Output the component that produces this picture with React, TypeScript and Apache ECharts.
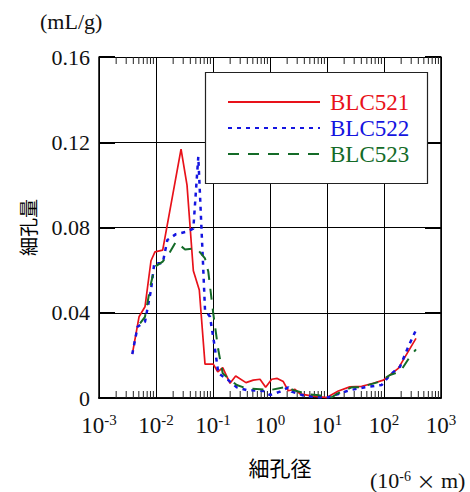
import React, { useEffect, useRef } from "react";
import * as echarts from "echarts";

// ---- data (pore diameter in 10^-6 m, pore volume in mL/g) ----
const seriesNames = ["BLC521", "BLC522", "BLC523"];
const seriesColors = ["#e8121a", "#1414e0", "#146b28"];

const diameterA = [0.00384, 0.00504, 0.00641, 0.00817, 0.00959, 0.0131, 0.0275, 0.035, 0.0452, 0.0575, 0.0724, 0.101, 0.121, 0.148, 0.199, 0.25, 0.379, 0.509, 0.668, 0.839, 1.07, 1.34, 1.71, 2.09, 2.75, 3.36, 5.01, 9.89, 15.8, 25.1, 40.6, 65.0, 97.3, 178, 364];
const volumeA = [0.0206, 0.0381, 0.0428, 0.0644, 0.0686, 0.0694, 0.1168, 0.0999, 0.0597, 0.0507, 0.0159, 0.0159, 0.0123, 0.0142, 0.0069, 0.0103, 0.0072, 0.0084, 0.0088, 0.005, 0.0088, 0.0092, 0.0077, 0.0034, 0.0041, 0.0019, 0.0011, 0.0002, 0.0033, 0.0052, 0.0055, 0.0069, 0.0084, 0.0139, 0.028];

const diameterB = [0.00384, 0.00475, 0.00641, 0.00817, 0.00933, 0.0131, 0.0158, 0.0224, 0.0345, 0.0452, 0.0552, 0.0661, 0.0724, 0.0885, 0.105, 0.124, 0.186, 0.261, 0.389, 0.764, 1.0, 1.5, 2.09, 2.4, 3.85, 6.61, 10.5, 15.8, 25.1, 46.5, 91.2, 127, 191, 267, 364];
const volumeB = [0.0206, 0.0334, 0.0358, 0.0507, 0.0632, 0.0632, 0.0741, 0.0769, 0.078, 0.0795, 0.1132, 0.066, 0.0413, 0.0381, 0.0256, 0.0116, 0.0084, 0.005, 0.0037, 0.0033, 0.0014, 0.003, 0.005, 0.003, 0.0012, 0.0004, 0.0003, 0.0019, 0.0037, 0.005, 0.0061, 0.0108, 0.0147, 0.0241, 0.0319];

const diameterC = [0.00525, 0.00641, 0.00817, 0.00959, 0.0131, 0.0171, 0.0224, 0.0323, 0.0518, 0.0724, 0.0828, 0.101, 0.124, 0.148, 0.186, 0.261, 0.389, 0.668, 1.0, 1.96, 2.57, 4.7, 6.61, 12.1, 14.8, 27.1, 38.0, 85.1, 127, 191, 286, 364];
const volumeC = [0.035, 0.0381, 0.0538, 0.0616, 0.064, 0.0679, 0.0733, 0.0697, 0.0702, 0.0655, 0.0592, 0.0397, 0.0225, 0.0116, 0.0092, 0.0061, 0.0045, 0.0041, 0.0037, 0.0053, 0.0037, 0.0017, 0.0014, 0.0003, 0.0019, 0.005, 0.005, 0.0077, 0.0108, 0.0123, 0.0194, 0.0228];

const xDecades = [0.001, 0.01, 0.1, 1, 10, 100, 1000];
const xExponents = ["-3", "-2", "-1", "0", "1", "2", "3"];
const yTickLabels = ["0", "0.04", "0.08", "0.12", "0.16"];
const minorSteps = [2, 3, 4, 5, 6, 7, 8, 9];

const zip = (xs: number[], ys: number[]) => xs.map((x, i) => [x, ys[i]]);

export default function App() {
  const ref = useRef<HTMLDivElement>(null);

  useEffect(() => {
    document.body.style.margin = "0";
    const chart = echarts.init(ref.current!, null, { renderer: "svg" });

    const minorData: number[][] = [];
    xDecades.slice(0, -1).forEach((d) => minorSteps.forEach((k) => minorData.push([k * d, 0])));

    const serif = "Liberation Serif";
    const cjk = "Noto Sans CJK JP";

    const lineTypes: any[] = ["solid", [4, 5], [11, 9]];
    const lineWidths = [1.7, 2.5, 2];
    const datasets = [zip(diameterA, volumeA), zip(diameterB, volumeB), zip(diameterC, volumeC)];

    chart.setOption({
      animation: false,
      grid: { left: 99, top: 57, right: 29, bottom: 94, containLabel: false },
      xAxis: [
        {
          type: "log",
          logBase: 10,
          min: 0.001,
          max: 1000,
          position: "bottom",
          name: "細孔径",
          nameLocation: "middle",
          nameGap: 58,
          nameTextStyle: { fontFamily: cjk, fontSize: 21, color: "#000", padding: [0, 0, 0, 20] },
          axisLine: { show: true, lineStyle: { color: "#000", width: 1.5 } },
          axisTick: { show: false },
          splitLine: { show: true, lineStyle: { color: "#000", width: 1 } },
          minorTick: { show: false },
          axisLabel: {
            margin: 14,
            formatter: (v: number) => {
              const i = xDecades.findIndex((d) => Math.abs(Math.log10(d) - Math.log10(v)) < 1e-6);
              return i < 0 ? "" : `{b|10}{s|${xExponents[i]}}`;
            },
            rich: {
              b: { fontFamily: serif, fontSize: 23, color: "#111", lineHeight: 26 },
              s: { fontFamily: serif, fontSize: 15, color: "#111", lineHeight: 15, verticalAlign: "top" },
            },
          },
        },
        {
          type: "log",
          logBase: 10,
          min: 0.001,
          max: 1000,
          position: "top",
          axisLine: { show: true, lineStyle: { color: "#000", width: 1.5 } },
          axisTick: { show: false },
          axisLabel: { show: false },
          splitLine: { show: false },
        },
      ],
      yAxis: [
        {
          type: "value",
          min: 0,
          max: 0.16,
          interval: 0.04,
          position: "left",
          name: "細孔量",
          nameLocation: "middle",
          nameRotate: 90,
          nameGap: 62,
          nameTextStyle: { fontFamily: cjk, fontSize: 19, color: "#000" },
          axisLine: { show: true, lineStyle: { color: "#000", width: 1.5 } },
          axisTick: { show: true, inside: true, length: 16, lineStyle: { color: "#000", width: 2 } },
          splitLine: { show: true, lineStyle: { color: "#000", width: 1 } },
          axisLabel: {
            margin: 9,
            fontFamily: serif,
            fontSize: 22,
            color: "#111",
            formatter: (v: number) => yTickLabels[Math.round(v / 0.04)] ?? "",
          },
        },
        {
          type: "value",
          min: 0,
          max: 0.16,
          interval: 0.04,
          position: "right",
          axisLine: { show: true, lineStyle: { color: "#000", width: 1.5 } },
          axisTick: { show: true, inside: true, length: 16, lineStyle: { color: "#000", width: 2 } },
          axisLabel: { show: false },
          splitLine: { show: false },
        },
      ],
      legend: {
        data: seriesNames.map((n, i) => ({ name: n, textStyle: { color: seriesColors[i] } })),
        orient: "vertical",
        left: 227,
        top: 89,
        padding: 0,
        itemGap: 0,
        itemWidth: 92,
        itemHeight: 14,
        selectedMode: false,
        z: 10,
        itemStyle: { opacity: 0 },
        textStyle: { fontFamily: serif, fontSize: 23, lineHeight: 26, padding: [0, 0, 0, 5] },
      },
      graphic: [
        {
          type: "rect",
          z: 5,
          shape: { x: 205.5, y: 72.5, width: 222, height: 111 },
          style: { fill: "#fff", stroke: "#222", lineWidth: 1.2 },
        },
        {
          type: "text",
          left: 40,
          top: 10,
          style: { text: "(mL/g)", fontFamily: serif, fontSize: 22, fill: "#111" },
        },
        {
          type: "text",
          left: 370,
          top: 469,
          style: {
            text: "(10{s|-6} {x|×} m)",
            fontFamily: serif,
            fontSize: 22,
            fill: "#111",
            rich: {
              s: { fontFamily: serif, fontSize: 14, verticalAlign: "top", fill: "#111" },
              x: { fontFamily: cjk, fontSize: 19, fill: "#111" },
            },
          } as any,
        },
      ],
      series: [
        ...datasets.map((d, i) => ({
          name: seriesNames[i],
          type: "line",
          data: d,
          symbol: "none",
          z: 3,
          itemStyle: { color: seriesColors[i] },
          lineStyle: { color: seriesColors[i], width: lineWidths[i], type: lineTypes[i] },
        })),
        {
          name: "minorTicks",
          type: "custom",
          data: minorData,
          z: 1,
          silent: true,
          renderItem: (_p: any, api: any) => {
            const v = api.value(0);
            const b = api.coord([v, 0]);
            const t = api.coord([v, 0.16]);
            return {
              type: "group",
              children: [
                { type: "line", shape: { x1: b[0], y1: b[1], x2: b[0], y2: b[1] - 7 }, style: { stroke: "#222", lineWidth: 1 } },
                { type: "line", shape: { x1: t[0], y1: t[1], x2: t[0], y2: t[1] + 7 }, style: { stroke: "#222", lineWidth: 1 } },
              ],
            };
          },
        },
      ],
    });
    return () => chart.dispose();
  }, []);

  return <div ref={ref} style={{ width: 470, height: 492 }} />;
}
